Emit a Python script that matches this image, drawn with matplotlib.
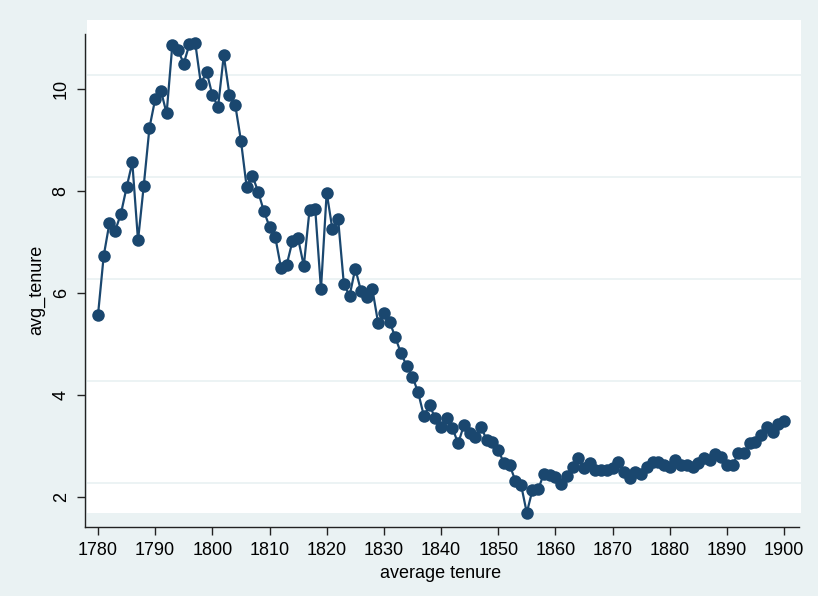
import matplotlib
matplotlib.use("Agg")
import matplotlib.pyplot as plt

# yearly average tenure
years = list(range(1780, 1901))
avg_tenure = [
    5.57, 6.73, 7.37, 7.22, 7.55, 8.07, 8.56, 7.03, 8.10, 9.24,
    9.80, 9.97, 9.52, 10.86, 10.76, 10.50, 10.88, 10.91, 10.10, 10.34,
    9.88, 9.65, 10.66, 9.88, 9.69, 8.99, 8.08, 8.30, 7.99, 7.61,
    7.30, 7.10, 6.50, 6.55, 7.01, 7.07, 6.53, 7.63, 7.64, 6.07,
    7.97, 7.25, 7.45, 6.18, 5.94, 6.48, 6.04, 5.92, 6.07, 5.41,
    5.60, 5.44, 5.13, 4.82, 4.57, 4.36, 4.05, 3.59, 3.80, 3.54,
    3.37, 3.54, 3.35, 3.05, 3.41, 3.25, 3.17, 3.37, 3.12, 3.08,
    2.92, 2.67, 2.63, 2.32, 2.24, 1.69, 2.14, 2.15, 2.46, 2.43,
    2.39, 2.25, 2.41, 2.59, 2.76, 2.56, 2.66, 2.52, 2.53, 2.53,
    2.56, 2.69, 2.50, 2.37, 2.50, 2.46, 2.59, 2.69, 2.69, 2.63,
    2.59, 2.73, 2.63, 2.63, 2.58, 2.66, 2.76, 2.73, 2.84, 2.78,
    2.63, 2.63, 2.86, 2.87, 3.05, 3.08, 3.22, 3.38, 3.28, 3.44,
    3.50,
]
x_ticks = list(range(1780, 1901, 10))
y_ticks = [2, 4, 6, 8, 10]

BG = "#EAF2F3"
NAVY = "#1A476F"

plt.rcParams["font.family"] = ["Liberation Sans", "DejaVu Sans"]

W, H = 818, 596
fig = plt.figure(figsize=(W / 100, H / 100), dpi=100, facecolor=BG)

# white plot region in pixels: x 87..801, y 20..513 (from top)
left, right, top, bottom = 87, 801, 20, 513
ax = fig.add_axes([left / W, (H - bottom) / H, (right - left) / W, (bottom - top) / H])
ax.set_facecolor("white")


def px_to_y(py):
    return 2 + (497 - py) / 51.0


def px_to_x(px):
    return 1780 + (px - 98) / 5.717


ax.set_xlim(px_to_x(left), px_to_x(right))
ax.set_ylim(px_to_y(bottom), px_to_y(top))

# grid lines sit a bit above the tick positions, as in the reference
for v in y_ticks:
    ax.axhline(v + 0.28, color=BG, lw=1.3, zorder=1)

ax.plot(years, avg_tenure, color=NAVY, lw=1.6, marker="o", ms=9,
        markeredgewidth=0, zorder=3, clip_on=False)

for side in ("top", "right"):
    ax.spines[side].set_visible(False)
ax.spines["left"].set_position(("outward", 1.5))
ax.spines["bottom"].set_position(("outward", 10))
ax.spines["left"].set_bounds(px_to_y(527), px_to_y(34))
ax.spines["bottom"].set_bounds(px_to_x(85), px_to_x(799))
for side in ("left", "bottom"):
    ax.spines[side].set_color("#222222")
    ax.spines[side].set_linewidth(1.0)

ax.set_xticks(x_ticks)
ax.set_yticks(y_ticks)
ax.set_yticklabels([str(v) for v in y_ticks], rotation=90, va="center")
ax.tick_params(axis="both", direction="out", length=5.5, width=1.0,
               color="#222222", labelsize=13, pad=5.5)

fig.text(441 / W, 1 - 573 / H, "average tenure", ha="center", va="center", fontsize=13)
fig.text(37 / W, 1 - 290 / H, "avg_tenure", ha="center", va="center",
         rotation=90, fontsize=13)

fig.savefig("out.png", dpi=100, facecolor=BG)
